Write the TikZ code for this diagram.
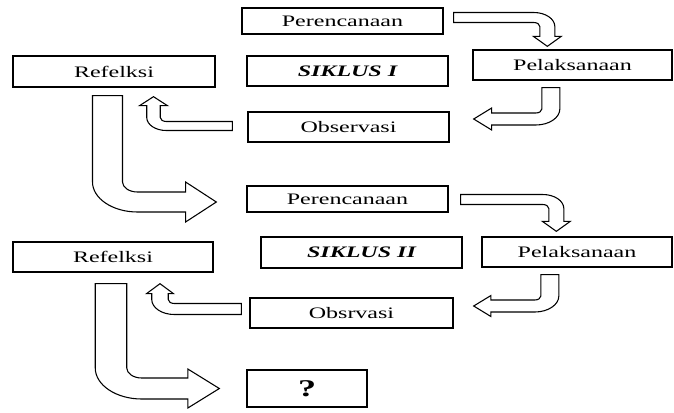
\documentclass[tikz,border=0pt]{standalone}
\usepackage{fontspec}
\setmainfont{Liberation Serif}[FakeStretch=1.5]
\usetikzlibrary{positioning,calc}

% block arrow: first horizontal, then vertical (tail, tip, half width, head half width, head length, inner radius)
\newcommand{\panahHV}[6]{%
  \draw[blok] let \p1=(#1), \p2=(#2),
      \n{sx}={sign(\x2-\x1)}, \n{sy}={sign(\y2-\y1)},
      \n{ax}={(\n{sx})*1.125*#3}, \n{ay}={(\n{sy})*0.75*#3},
      \n{hw}={(\n{sx})*1.125*#4}, \n{hl}={(\n{sy})*0.75*#5},
      \n{rx}={(\n{sx})*1.125*(#6+2*#3)}, \n{ry}={(\n{sy})*0.75*(#6+2*#3)},
      \n{ix}={(\n{sx})*1.125*#6}, \n{iy}={(\n{sy})*0.75*#6} in
    (\x1, {\y1-(\n{ay})*1pt})
    -- ({\x2+(\n{ax})*1pt-(\n{rx})*1pt}, {\y1-(\n{ay})*1pt})
    .. controls +({0.55*(\n{rx})*1pt}, 0pt) and +(0pt, {-0.55*(\n{ry})*1pt}) ..
    ({\x2+(\n{ax})*1pt}, {\y1-(\n{ay})*1pt+(\n{ry})*1pt})
    -- ({\x2+(\n{ax})*1pt}, {\y2-(\n{hl})*1pt})
    -- ({\x2+(\n{hw})*1pt}, {\y2-(\n{hl})*1pt})
    -- (\x2, \y2)
    -- ({\x2-(\n{hw})*1pt}, {\y2-(\n{hl})*1pt})
    -- ({\x2-(\n{ax})*1pt}, {\y2-(\n{hl})*1pt})
    -- ({\x2-(\n{ax})*1pt}, {\y1+(\n{ay})*1pt+(\n{iy})*1pt})
    .. controls +(0pt, {-0.55*(\n{iy})*1pt}) and +({0.55*(\n{ix})*1pt}, 0pt) ..
    ({\x2-(\n{ax})*1pt-(\n{ix})*1pt}, {\y1+(\n{ay})*1pt})
    -- (\x1, {\y1+(\n{ay})*1pt}) -- cycle;}

% block arrow: first vertical, then horizontal
\newcommand{\panahVH}[6]{%
  \draw[blok] let \p1=(#1), \p2=(#2),
      \n{sx}={sign(\x2-\x1)}, \n{sy}={sign(\y2-\y1)},
      \n{ax}={(\n{sx})*1.125*#3}, \n{ay}={(\n{sy})*0.75*#3},
      \n{hw}={(\n{sy})*0.75*#4}, \n{hl}={(\n{sx})*1.125*#5},
      \n{rx}={(\n{sx})*1.125*(#6+2*#3)}, \n{ry}={(\n{sy})*0.75*(#6+2*#3)},
      \n{ix}={(\n{sx})*1.125*#6}, \n{iy}={(\n{sy})*0.75*#6} in
    ({\x1-(\n{ax})*1pt}, \y1)
    -- ({\x1-(\n{ax})*1pt}, {\y2+(\n{ay})*1pt-(\n{ry})*1pt})
    .. controls +(0pt, {0.55*(\n{ry})*1pt}) and +({-0.55*(\n{rx})*1pt}, 0pt) ..
    ({\x1-(\n{ax})*1pt+(\n{rx})*1pt}, {\y2+(\n{ay})*1pt})
    -- ({\x2-(\n{hl})*1pt}, {\y2+(\n{ay})*1pt})
    -- ({\x2-(\n{hl})*1pt}, {\y2+(\n{hw})*1pt})
    -- (\x2, \y2)
    -- ({\x2-(\n{hl})*1pt}, {\y2-(\n{hw})*1pt})
    -- ({\x2-(\n{hl})*1pt}, {\y2-(\n{ay})*1pt})
    -- ({\x1+(\n{ax})*1pt+(\n{ix})*1pt}, {\y2-(\n{ay})*1pt})
    .. controls +({-0.55*(\n{ix})*1pt}, 0pt) and +(0pt, {0.55*(\n{iy})*1pt}) ..
    ({\x1+(\n{ax})*1pt}, {\y2-(\n{ay})*1pt-(\n{iy})*1pt})
    -- ({\x1+(\n{ax})*1pt}, \y1) -- cycle;}

\begin{document}
\begin{tikzpicture}[x=0.75pt, y=-0.75pt,
    kotak/.style={rectangle, draw, line width=1pt, minimum width=150.75pt, minimum height=22.5pt, inner sep=2pt, font=\fontsize{12}{14}\selectfont},
    judul/.style={kotak, font=\fontsize{12}{14}\selectfont\bfseries\itshape},
    blok/.style={draw, line width=0.8pt, fill=white}]
    \useasboundingbox (0,0) rectangle (674,412);

    % Siklus I
    \node[kotak, minimum height=19.5pt] (ren1) at (342.5,21) {Perencanaan};
    \node[judul] (siklus1) at (347.5,71) {SIKLUS I};
    \node[kotak, minimum width=149.25pt] (lak1) at (572.5,65) {Pelaksanaan};
    \node[kotak, minimum width=151.5pt, minimum height=23.25pt] (ref1) at (114,71.5) {Refelksi};
    \node[kotak] (obs1) at (348.5,127) {Observasi};

    % Siklus II
    \node[kotak, minimum height=19.5pt] (ren2) at (347.5,199) {Perencanaan};
    \node[judul, minimum height=23.25pt] (siklus2) at (361.5,252.5) {SIKLUS II};
    \node[kotak, minimum width=142.5pt] (lak2) at (577,252) {Pelaksanaan};
    \node[kotak, minimum width=150pt] (ref2) at (113,257) {Refelksi};
    \node[kotak, minimum width=152.25pt] (obs2) at (351.5,313) {Obsrvasi};

    % Lanjut
    \node[kotak, minimum width=90pt, minimum height=27.75pt, font=\fontsize{18}{20}\selectfont\bfseries] (tanya) at (307,388.5) {?};

    % Ujung panah
    \coordinate (e1) at ($(ren1.east)+(10,-3.5)$);
    \coordinate (u1) at ($(lak1.north west)+(75,-3)$);
    \coordinate (e2) at ($(lak1.south west)+(78.5,7)$);
    \coordinate (u2) at ($(obs1.east)+(24,-8)$);
    \coordinate (e3) at ($(obs1.west)+(-15,-1)$);
    \coordinate (u3) at ($(ref1.south)+(39.5,9)$);
    \coordinate (e4) at ($(ref1.south)+(-6.5,8)$);
    \coordinate (u4) at ($(ren2.west)+(-30,3)$);
    \coordinate (e5) at ($(ren2.east)+(12,0.5)$);
    \coordinate (u5) at ($(lak2.north west)+(75,-5)$);
    \coordinate (e6) at ($(lak2.south west)+(68.5,7)$);
    \coordinate (u6) at ($(obs2.east)+(20,-7)$);
    \coordinate (e7) at ($(obs2.west)+(-8,-4)$);
    \coordinate (u7) at ($(ref2.south)+(47,11)$);
    \coordinate (e8) at ($(ref2.south)+(-2,11)$);
    \coordinate (u8) at ($(tanya.west)+(-27,0)$);

    % Panah
    \panahHV{e1}{u1}{5}{9.3}{10}{4}
    \panahVH{e2}{u2}{6}{11}{12}{4}
    \panahHV{e3}{u3}{4.5}{9.3}{9}{4}
    \panahVH{e4}{u4}{10}{20}{20.5}{10}
    \panahHV{e5}{u5}{5}{9.3}{10}{4}
    \panahVH{e6}{u6}{6}{10.5}{11.5}{4}
    \panahHV{e7}{u7}{5.5}{9}{10}{4}
    \panahVH{e8}{u8}{10.5}{19.5}{21}{10}
\end{tikzpicture}
\end{document}
